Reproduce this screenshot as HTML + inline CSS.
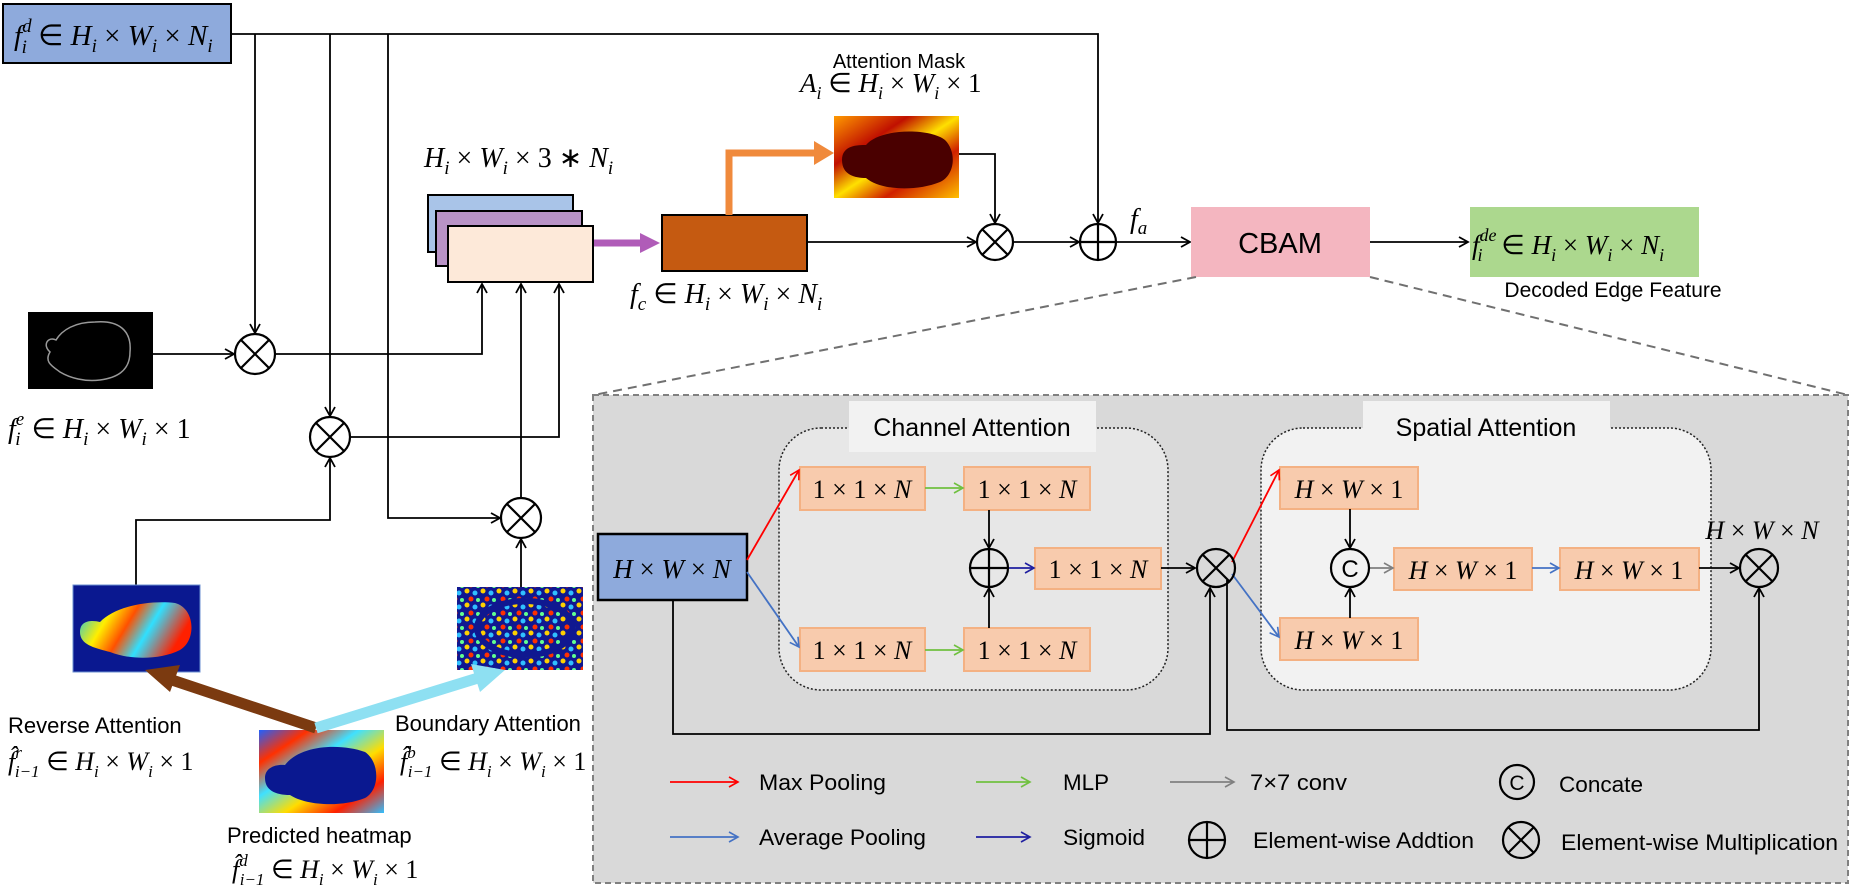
<!DOCTYPE html>
<html><head><meta charset="utf-8"><style>
html,body{margin:0;padding:0;background:#fff;}
svg{display:block;}
.m{font-family:"Liberation Serif",serif;font-style:italic;}
.s{font-family:"Liberation Sans",sans-serif;}
</style></head><body>
<svg width="1850" height="891" viewBox="0 0 1850 891" xmlns="http://www.w3.org/2000/svg">
<defs>
<marker id="ak" markerWidth="12" markerHeight="12" refX="10" refY="6" orient="auto" markerUnits="userSpaceOnUse"><path d="M1,1 L10,6 L1,11" fill="none" stroke="#000" stroke-width="1.8"/></marker>
<marker id="ar" markerWidth="12" markerHeight="12" refX="10" refY="6" orient="auto" markerUnits="userSpaceOnUse"><path d="M1,1 L10,6 L1,11" fill="none" stroke="#ff0000" stroke-width="1.6"/></marker>
<marker id="ab" markerWidth="12" markerHeight="12" refX="10" refY="6" orient="auto" markerUnits="userSpaceOnUse"><path d="M1,1 L10,6 L1,11" fill="none" stroke="#4472c4" stroke-width="1.6"/></marker>
<marker id="ag" markerWidth="12" markerHeight="12" refX="10" refY="6" orient="auto" markerUnits="userSpaceOnUse"><path d="M1,1 L10,6 L1,11" fill="none" stroke="#70c040" stroke-width="1.6"/></marker>
<marker id="ad" markerWidth="12" markerHeight="12" refX="10" refY="6" orient="auto" markerUnits="userSpaceOnUse"><path d="M1,1 L10,6 L1,11" fill="none" stroke="#1f1fa0" stroke-width="1.6"/></marker>
<marker id="ay" markerWidth="12" markerHeight="12" refX="10" refY="6" orient="auto" markerUnits="userSpaceOnUse"><path d="M1,1 L10,6 L1,11" fill="none" stroke="#808080" stroke-width="1.6"/></marker>
<linearGradient id="rb" x1="0" y1="0" x2="1" y2="0.3">
<stop offset="0" stop-color="#00c0ff"/><stop offset="0.3" stop-color="#ffee00"/><stop offset="0.5" stop-color="#ff5000"/><stop offset="0.7" stop-color="#30e0ff"/><stop offset="1" stop-color="#ff2000"/></linearGradient>
<linearGradient id="hm" x1="0" y1="0" x2="1" y2="1">
<stop offset="0" stop-color="#2060ff"/><stop offset="0.2" stop-color="#ff3000"/><stop offset="0.4" stop-color="#40e0ff"/><stop offset="0.6" stop-color="#ffdd00"/><stop offset="0.8" stop-color="#ff2000"/><stop offset="1" stop-color="#30c0ff"/></linearGradient>
<linearGradient id="fm" x1="0" y1="0" x2="1" y2="1">
<stop offset="0" stop-color="#ff9a00"/><stop offset="0.3" stop-color="#c01000"/><stop offset="0.5" stop-color="#ffe000"/><stop offset="0.7" stop-color="#d02000"/><stop offset="1" stop-color="#ffc000"/></linearGradient>
<pattern id="nz" width="16" height="14" patternUnits="userSpaceOnUse">
<rect width="16" height="14" fill="#101890"/><circle cx="3" cy="3" r="2.5" fill="#ffd000"/><circle cx="11" cy="5" r="2.5" fill="#30c0ff"/><circle cx="7" cy="11" r="2.5" fill="#ff3000"/><circle cx="14" cy="12" r="2" fill="#60ff90"/></pattern>
</defs>

<rect x="3" y="4" width="228" height="59" fill="#8eaadc" stroke="#000" stroke-width="2"/>
<text x="14" y="45" class="m" font-size="29">f<tspan font-size="19" dy="-13">d</tspan><tspan font-size="19" dx="-10" dy="21">i</tspan><tspan dy="-8" dx="4" font-style="normal"> ∈ </tspan>H<tspan font-size="19" dy="7">i</tspan><tspan dy="-7" font-style="normal"> × </tspan>W<tspan font-size="19" dy="7">i</tspan><tspan dy="-7" font-style="normal"> × </tspan>N<tspan font-size="19" dy="7">i</tspan></text>

<g stroke="#000" stroke-width="1.8" fill="none">
<polyline points="231,34 1098,34 1098,223" marker-end="url(#ak)"/>
<line x1="255" y1="34" x2="255" y2="333" marker-end="url(#ak)"/>
<line x1="330" y1="34" x2="330" y2="416" marker-end="url(#ak)"/>
<polyline points="388,34 388,518 500,518" marker-end="url(#ak)"/>
<line x1="153" y1="354" x2="234" y2="354" marker-end="url(#ak)"/>
<polyline points="275,354 482,354 482,284" marker-end="url(#ak)"/>
<polyline points="350,437 559,437 559,284" marker-end="url(#ak)"/>
<polyline points="136,585 136,520 330,520 330,458" marker-end="url(#ak)"/>
<line x1="521" y1="587" x2="521" y2="539" marker-end="url(#ak)"/>
<line x1="521" y1="498" x2="521" y2="284" marker-end="url(#ak)"/>
<line x1="807" y1="242" x2="976" y2="242" marker-end="url(#ak)"/>
<polyline points="959,154 995,154 995,223" marker-end="url(#ak)"/>
<line x1="1014" y1="242" x2="1079" y2="242" marker-end="url(#ak)"/>
<line x1="1117" y1="242" x2="1190" y2="242" marker-end="url(#ak)"/>
<line x1="1370" y1="242" x2="1468" y2="242" marker-end="url(#ak)"/>
</g>

<g stroke="#000" stroke-width="2.2" fill="#fff">
<circle cx="255" cy="354" r="20"/><path d="M241,340 L269,368 M269,340 L241,368"/>
<circle cx="330" cy="437" r="20"/><path d="M316,423 L344,451 M344,423 L316,451"/>
<circle cx="521" cy="518" r="20"/><path d="M507,504 L535,532 M535,504 L507,532"/>
<circle cx="995" cy="242" r="18"/><path d="M982,229 L1008,255 M1008,229 L982,255"/>
<circle cx="1098" cy="242" r="18"/><path d="M1080,242 L1116,242 M1098,224 L1098,260"/>
</g>

<text x="424" y="167" class="m" font-size="28">H<tspan font-size="19" dy="7">i</tspan><tspan dy="-7" font-style="normal"> × </tspan>W<tspan font-size="19" dy="7">i</tspan><tspan dy="-7" font-style="normal"> × 3 ∗ </tspan>N<tspan font-size="19" dy="7">i</tspan></text>
<rect x="428" y="195" width="145" height="57" fill="#a9c4e8" stroke="#000" stroke-width="2"/>
<rect x="436" y="211" width="146" height="55" fill="#b993c6" stroke="#000" stroke-width="2"/>
<rect x="448" y="226" width="145" height="56" fill="#fde9d9" stroke="#000" stroke-width="2"/>
<line x1="594" y1="243" x2="642" y2="243" stroke="#b05cb8" stroke-width="7"/>
<polygon points="640,233 660,243 640,253" fill="#b05cb8"/>

<rect x="662" y="215" width="145" height="56" fill="#c55a11" stroke="#000" stroke-width="2"/>
<polyline points="729,215 729,153 815,153" fill="none" stroke="#f08a3c" stroke-width="7"/>
<polygon points="814,141 834,153 814,165" fill="#f08a3c"/>
<text x="630" y="303" class="m" font-size="28">f<tspan font-size="19" dy="7">c</tspan><tspan dy="-7" font-style="normal"> ∈ </tspan>H<tspan font-size="19" dy="7">i</tspan><tspan dy="-7" font-style="normal"> × </tspan>W<tspan font-size="19" dy="7">i</tspan><tspan dy="-7" font-style="normal"> × </tspan>N<tspan font-size="19" dy="7">i</tspan></text>

<text x="899" y="68" class="s" font-size="20" text-anchor="middle">Attention Mask</text>
<text x="800" y="92" class="m" font-size="27">A<tspan font-size="18" dy="7">i</tspan><tspan dy="-7" font-style="normal"> ∈ </tspan>H<tspan font-size="18" dy="7">i</tspan><tspan dy="-7" font-style="normal"> × </tspan>W<tspan font-size="18" dy="7">i</tspan><tspan dy="-7" font-style="normal"> × 1</tspan></text>
<rect x="834" y="116" width="125" height="82" fill="url(#fm)"/>
<path d="M842,160 C842,145 858,145 866,145 C880,128 930,128 945,140 C957,152 955,175 940,182 C915,192 880,190 866,178 C855,178 842,175 842,160 Z" fill="#4a0000"/>

<text x="1130" y="228" class="m" font-size="28">f<tspan font-size="19" dy="6">a</tspan></text>

<rect x="1191" y="207" width="179" height="70" fill="#f4b6c0"/>
<text x="1280" y="253" class="s" font-size="29" text-anchor="middle">CBAM</text>
<rect x="1470" y="207" width="229" height="70" fill="#acd88e"/>
<text x="1472" y="254" class="m" font-size="27">f<tspan font-size="18" dy="-13">de</tspan><tspan font-size="18" dx="-19" dy="20">i</tspan><tspan dy="-7" dx="12" font-style="normal"> ∈ </tspan>H<tspan font-size="18" dy="7">i</tspan><tspan dy="-7" font-style="normal"> × </tspan>W<tspan font-size="18" dy="7">i</tspan><tspan dy="-7" font-style="normal"> × </tspan>N<tspan font-size="18" dy="7">i</tspan></text>
<text x="1613" y="297" class="s" font-size="21" text-anchor="middle">Decoded Edge Feature</text>

<g stroke="#707070" stroke-width="2" stroke-dasharray="9,6" fill="none">
<line x1="1196" y1="277" x2="594" y2="395"/>
<line x1="1370" y1="277" x2="1848" y2="395"/>
</g>

<rect x="28" y="312" width="125" height="77" fill="#000"/>
<path d="M50,352 C42,345 48,336 56,340 C62,330 75,322 95,322 C118,320 132,330 130,352 C130,372 115,378 100,380 C85,382 70,378 60,372 C52,366 44,362 50,352 Z" fill="none" stroke="#999" stroke-width="1.5"/>
<text x="8" y="438" class="m" font-size="28">f<tspan font-size="19" dy="-13">e</tspan><tspan font-size="19" dx="-9" dy="20">i</tspan><tspan dy="-7" dx="4" font-style="normal"> ∈ </tspan>H<tspan font-size="19" dy="7">i</tspan><tspan dy="-7" font-style="normal"> × </tspan>W<tspan font-size="19" dy="7">i</tspan><tspan dy="-7" font-style="normal"> × 1</tspan></text>

<rect x="73" y="585" width="127" height="87" fill="#0a1890" stroke="#6b8fd0" stroke-width="1"/>
<path d="M80,632 C80,620 92,620 100,622 C115,606 150,600 175,603 C195,608 197,640 180,650 C160,660 130,660 110,652 C95,648 80,645 80,632 Z" fill="url(#rb)"/>
<rect x="457" y="587" width="126" height="83" fill="url(#nz)"/>
<ellipse cx="525" cy="628" rx="48" ry="27" fill="none" stroke="#101890" stroke-width="6"/>

<rect x="259" y="730" width="125" height="83" fill="url(#hm)"/>
<path d="M265,778 C265,768 275,764 285,765 C300,745 340,743 365,752 C380,762 380,790 365,798 C340,808 305,805 290,795 C275,795 265,790 265,778 Z" fill="#0a1890"/>

<line x1="316" y1="728" x2="172" y2="680" stroke="#7b3a10" stroke-width="11"/>
<polygon points="145,670 180,665 170,692" fill="#7b3a10"/>
<line x1="316" y1="728" x2="478" y2="678" stroke="#8ee0f2" stroke-width="11"/>
<polygon points="505,670 471,664 480,692" fill="#8ee0f2"/>

<text x="8" y="733" class="s" font-size="22">Reverse Attention</text>
<text x="8" y="770" class="m" font-size="26">f̂<tspan font-size="17" dy="-12">r</tspan><tspan font-size="17" dx="-7" dy="19">i−1</tspan><tspan dy="-7" font-style="normal"> ∈ </tspan>H<tspan font-size="17" dy="7">i</tspan><tspan dy="-7" font-style="normal"> × </tspan>W<tspan font-size="17" dy="7">i</tspan><tspan dy="-7" font-style="normal"> × 1</tspan></text>
<text x="395" y="731" class="s" font-size="22">Boundary Attention</text>
<text x="400" y="770" class="m" font-size="26">f̂<tspan font-size="17" dy="-12">b</tspan><tspan font-size="17" dx="-8" dy="19">i−1</tspan><tspan dy="-7" font-style="normal"> ∈ </tspan>H<tspan font-size="17" dy="7">i</tspan><tspan dy="-7" font-style="normal"> × </tspan>W<tspan font-size="17" dy="7">i</tspan><tspan dy="-7" font-style="normal"> × 1</tspan></text>
<text x="227" y="843" class="s" font-size="22">Predicted heatmap</text>
<text x="232" y="878" class="m" font-size="26">f̂<tspan font-size="17" dy="-12">d</tspan><tspan font-size="17" dx="-8" dy="19">i−1</tspan><tspan dy="-7" font-style="normal"> ∈ </tspan>H<tspan font-size="17" dy="7">i</tspan><tspan dy="-7" font-style="normal"> × </tspan>W<tspan font-size="17" dy="7">i</tspan><tspan dy="-7" font-style="normal"> × 1</tspan></text>

<rect x="593" y="395" width="1255" height="488" fill="#d9d9d9" stroke="#808080" stroke-width="2" stroke-dasharray="6,4"/>
<rect x="779" y="428" width="389" height="262" rx="42" fill="#e7e7e7" stroke="#222" stroke-width="1.5" stroke-dasharray="2,2"/>
<rect x="849" y="401" width="247" height="51" fill="#f2f2f2"/>
<text x="972" y="436" class="s" font-size="25" text-anchor="middle">Channel Attention</text>
<rect x="1261" y="428" width="450" height="262" rx="42" fill="#f2f2f2" stroke="#222" stroke-width="1.5" stroke-dasharray="2,2"/>
<rect x="1363" y="401" width="247" height="51" fill="#f2f2f2"/>
<text x="1486" y="436" class="s" font-size="25" text-anchor="middle">Spatial Attention</text>

<rect x="598" y="534" width="149" height="66" fill="#8eaadc" stroke="#000" stroke-width="2.5"/>
<text x="672" y="578" class="m" font-size="27" text-anchor="middle">H<tspan font-style="normal"> × </tspan>W<tspan font-style="normal"> × </tspan>N</text>

<g fill="#f8cbad" stroke="#f4b183" stroke-width="2">
<rect x="800" y="467" width="125" height="43"/>
<rect x="964" y="467" width="126" height="43"/>
<rect x="800" y="628" width="125" height="43"/>
<rect x="964" y="628" width="126" height="43"/>
<rect x="1035" y="548" width="126" height="41"/>
<rect x="1280" y="467" width="138" height="42"/>
<rect x="1280" y="618" width="138" height="42"/>
<rect x="1394" y="548" width="138" height="42"/>
<rect x="1560" y="548" width="139" height="42"/>
</g>
<g class="m" font-size="26" text-anchor="middle">
<text x="862" y="498" font-style="normal">1 × 1 × <tspan font-style="italic">N</tspan></text>
<text x="1027" y="498" font-style="normal">1 × 1 × <tspan font-style="italic">N</tspan></text>
<text x="862" y="659" font-style="normal">1 × 1 × <tspan font-style="italic">N</tspan></text>
<text x="1027" y="659" font-style="normal">1 × 1 × <tspan font-style="italic">N</tspan></text>
<text x="1098" y="578" font-style="normal">1 × 1 × <tspan font-style="italic">N</tspan></text>
<text x="1349" y="498">H<tspan font-style="normal"> × </tspan>W<tspan font-style="normal"> × 1</tspan></text>
<text x="1349" y="649">H<tspan font-style="normal"> × </tspan>W<tspan font-style="normal"> × 1</tspan></text>
<text x="1463" y="579">H<tspan font-style="normal"> × </tspan>W<tspan font-style="normal"> × 1</tspan></text>
<text x="1629" y="579">H<tspan font-style="normal"> × </tspan>W<tspan font-style="normal"> × 1</tspan></text>
<text x="1762" y="539">H<tspan font-style="normal"> × </tspan>W<tspan font-style="normal"> × </tspan>N</text>
</g>

<g fill="none" stroke-width="1.8">
<line x1="747" y1="560" x2="799" y2="470" stroke="#ff0000" marker-end="url(#ar)"/>
<line x1="747" y1="572" x2="799" y2="647" stroke="#4472c4" marker-end="url(#ab)"/>
<line x1="925" y1="488" x2="963" y2="488" stroke="#70c040" marker-end="url(#ag)"/>
<line x1="925" y1="650" x2="963" y2="650" stroke="#70c040" marker-end="url(#ag)"/>
<line x1="989" y1="510" x2="989" y2="548" stroke="#000" marker-end="url(#ak)"/>
<line x1="989" y1="628" x2="989" y2="588" stroke="#000" marker-end="url(#ak)"/>
<line x1="1008" y1="568" x2="1034" y2="568" stroke="#1f1fa0" marker-end="url(#ad)"/>
<line x1="1161" y1="568" x2="1195" y2="568" stroke="#000" marker-end="url(#ak)"/>
<polyline points="673,600 673,734 1210,734 1210,588" stroke="#000" marker-end="url(#ak)"/>
<polyline points="1227,580 1227,730 1759,730 1759,588" stroke="#000" marker-end="url(#ak)"/>
<line x1="1232" y1="562" x2="1279" y2="470" stroke="#ff0000" marker-end="url(#ar)"/>
<line x1="1232" y1="574" x2="1279" y2="637" stroke="#4472c4" marker-end="url(#ab)"/>
<line x1="1350" y1="509" x2="1350" y2="548" stroke="#000" marker-end="url(#ak)"/>
<line x1="1350" y1="618" x2="1350" y2="588" stroke="#000" marker-end="url(#ak)"/>
<line x1="1369" y1="568" x2="1393" y2="568" stroke="#808080" marker-end="url(#ay)"/>
<line x1="1532" y1="568" x2="1559" y2="568" stroke="#4472c4" marker-end="url(#ab)"/>
<line x1="1699" y1="568" x2="1739" y2="568" stroke="#000" marker-end="url(#ak)"/>
</g>
<g stroke="#000" stroke-width="2.2" fill="none">
<circle cx="989" cy="568" r="19"/><path d="M970,568 L1008,568 M989,549 L989,587"/>
<circle cx="1216" cy="568" r="19"/><path d="M1203,555 L1229,581 M1229,555 L1203,581"/>
<circle cx="1350" cy="568" r="19"/>
<circle cx="1759" cy="568" r="19"/><path d="M1746,555 L1772,581 M1772,555 L1746,581"/>
</g>
<text x="1350" y="577" class="s" font-size="24" text-anchor="middle">C</text>

<g fill="none" stroke-width="1.8">
<line x1="670" y1="782" x2="738" y2="782" stroke="#ff0000" marker-end="url(#ar)"/>
<line x1="976" y1="782" x2="1030" y2="782" stroke="#70c040" marker-end="url(#ag)"/>
<line x1="1170" y1="782" x2="1234" y2="782" stroke="#808080" marker-end="url(#ay)"/>
<line x1="670" y1="837" x2="738" y2="837" stroke="#4472c4" marker-end="url(#ab)"/>
<line x1="976" y1="837" x2="1030" y2="837" stroke="#1f1fa0" marker-end="url(#ad)"/>
</g>
<g stroke="#000" stroke-width="2.2" fill="none">
<circle cx="1517" cy="782" r="17"/>
<circle cx="1207" cy="840" r="18"/><path d="M1189,840 L1225,840 M1207,822 L1207,858"/>
<circle cx="1521" cy="840" r="18"/><path d="M1508,827 L1534,853 M1534,827 L1508,853"/>
</g>
<g class="s" font-size="22">
<text x="1517" y="790" text-anchor="middle" font-size="21">C</text>
<text x="759" y="790" textLength="127" lengthAdjust="spacingAndGlyphs">Max Pooling</text>
<text x="1063" y="790" textLength="46" lengthAdjust="spacingAndGlyphs">MLP</text>
<text x="1250" y="790" textLength="97" lengthAdjust="spacingAndGlyphs">7×7 conv</text>
<text x="1559" y="792" textLength="84" lengthAdjust="spacingAndGlyphs">Concate</text>
<text x="759" y="845" textLength="167" lengthAdjust="spacingAndGlyphs">Average Pooling</text>
<text x="1063" y="845" textLength="82" lengthAdjust="spacingAndGlyphs">Sigmoid</text>
<text x="1253" y="848" textLength="221" lengthAdjust="spacingAndGlyphs">Element-wise Addtion</text>
<text x="1561" y="850" textLength="277" lengthAdjust="spacingAndGlyphs">Element-wise Multiplication</text>
</g>
</svg>
</body></html>
